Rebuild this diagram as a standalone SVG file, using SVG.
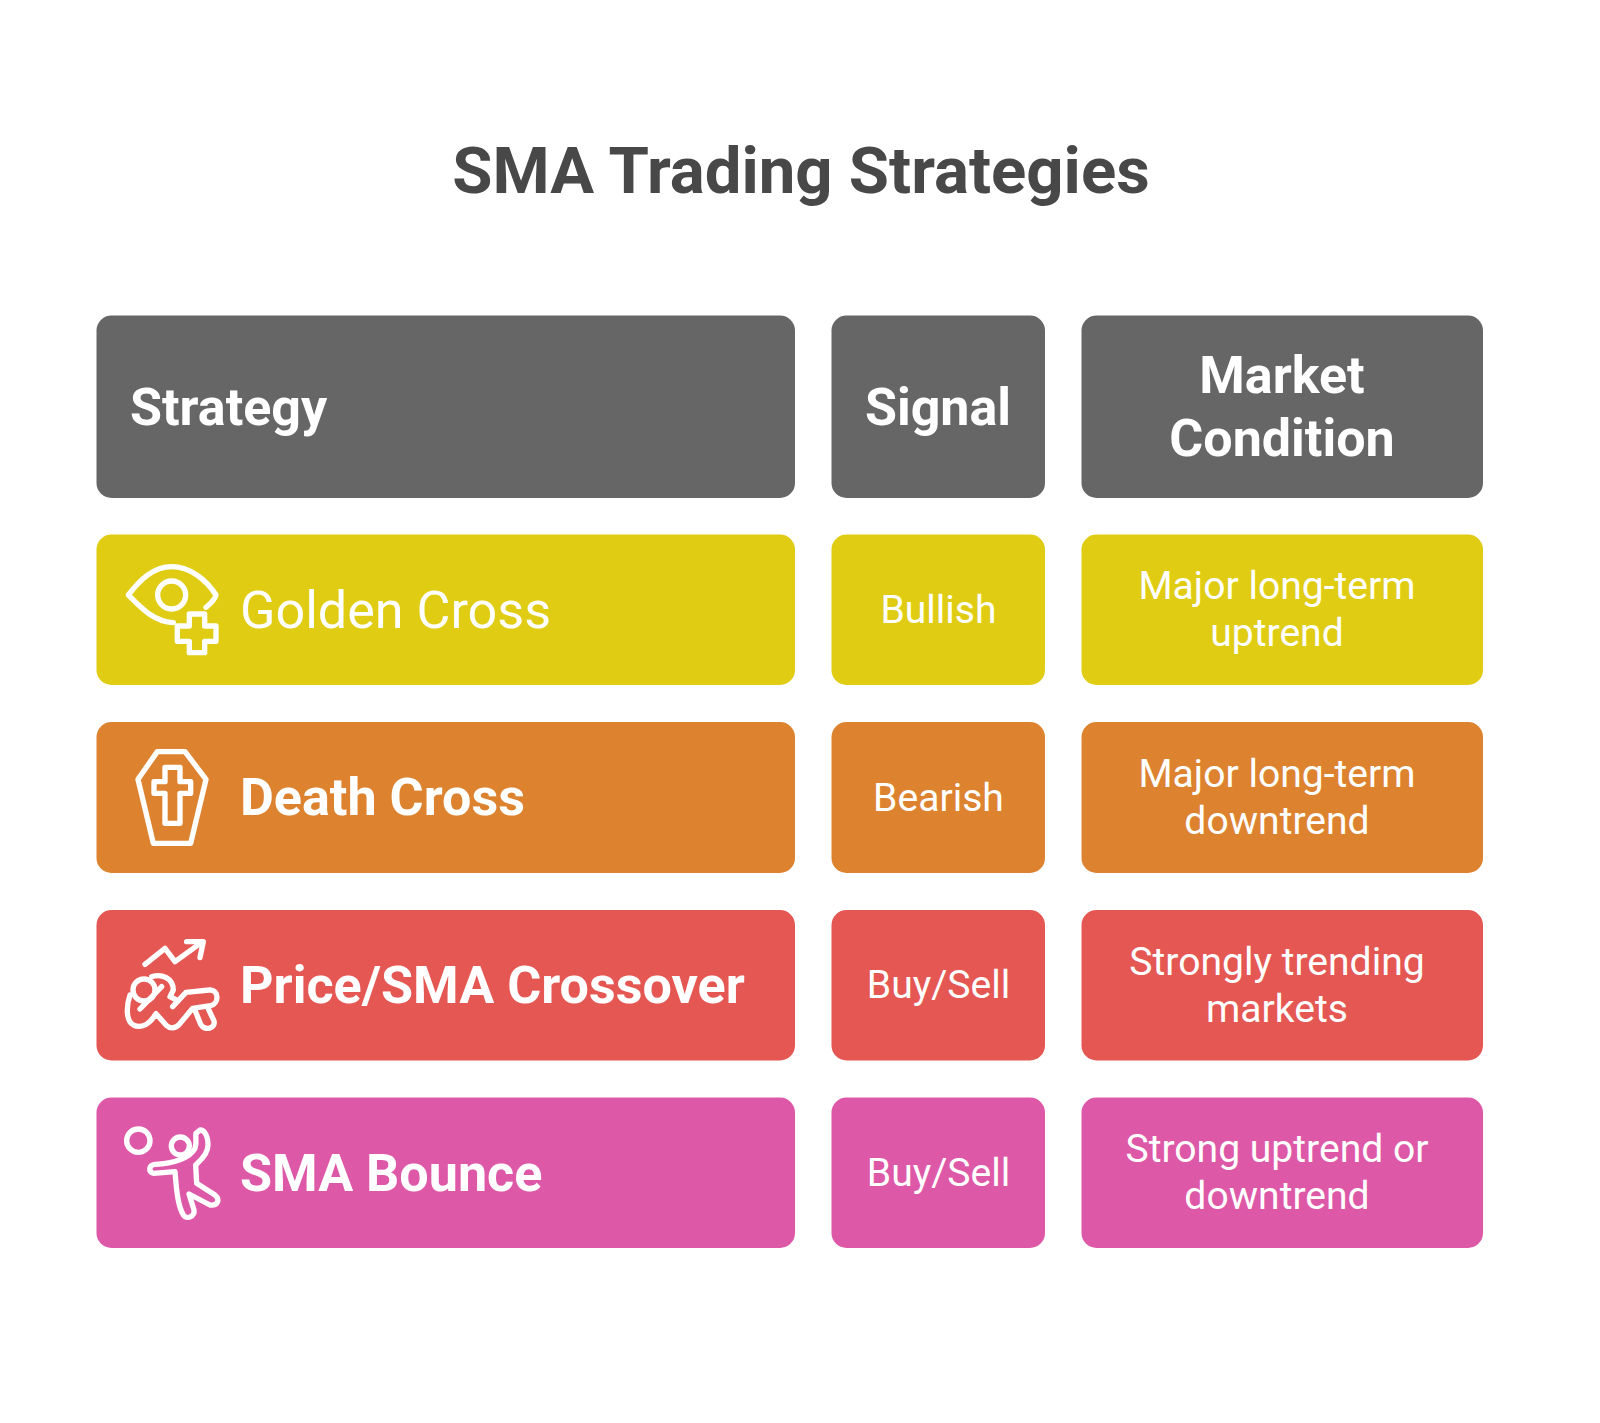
<svg xmlns="http://www.w3.org/2000/svg" width="1600" height="1423" viewBox="0 0 1600 1423">
<style>
text{font-family:Roboto,"Liberation Sans",sans-serif;fill:#fff}
.t{font-size:65.300px;font-weight:700;fill:#484848;text-anchor:middle}
.h{font-size:52px;font-weight:700}
.m{text-anchor:middle}
.s{font-size:39.100px;text-anchor:middle}
.n{font-size:52.100px;font-weight:700}
.r{font-size:52.100px}
.i{fill:none;stroke:#fff;stroke-width:16;stroke-linecap:round;stroke-linejoin:round}
.g{fill:#666666}.y{fill:#E0CC13}.o{fill:#DD832F}.e{fill:#E55753}.p{fill:#DE58A8}
</style>
<rect width="1600" height="1423" fill="#fff"/>
<text id="title" class="t" x="801" y="193">SMA Trading Strategies</text>
<g id="header-strategy"><rect class="g" x="96.500" y="315.500" width="698.500" height="182.500" rx="15"/><text class="h" x="130" y="424.500">Strategy</text></g>
<g id="header-signal"><rect class="g" x="831.500" y="315.500" width="213.500" height="182.500" rx="15"/><text class="h m" x="938" y="424.500">Signal</text></g>
<g id="header-market"><rect class="g" x="1081.500" y="315.500" width="401.500" height="182.500" rx="15"/><text class="h m" x="1282" y="393">Market</text><text class="h m" x="1282" y="456">Condition</text></g>

<g id="row-golden">
<rect class="y" x="96.500" y="534.500" width="698.500" height="150.500" rx="15"/>
<text class="r" x="240" y="628">Golden Cross</text>
<g class="i" transform="translate(100,530) scale(.3333)"><path d="M220 278C160 275 120 230 85 195C120 150 160 110 215 110C270 110 320 150 348 195C345 210 330 222 318 232"/><circle cx="215" cy="195" r="42"/><path d="M268 252H314V288H348V334H314V368H268V334H232V288H268Z"/></g>
</g>
<g id="signal-golden"><rect class="y" x="831.500" y="534.500" width="213.500" height="150.500" rx="15"/><text class="s" x="938.500" y="623">Bullish</text></g>
<g id="market-golden"><rect class="y" x="1081.500" y="534.500" width="401.500" height="150.500" rx="15"/><text class="s" x="1277" y="599">Major long-term</text><text class="s" x="1277" y="646">uptrend</text></g>

<g id="row-death">
<rect class="o" x="96.500" y="722" width="698.500" height="151" rx="15"/>
<text class="n" x="240" y="815">Death Cross</text>
<g class="i" transform="translate(100,530) scale(.3333)"><path d="M172 665H255L318 748L272 940H160L114 748Z"/><path d="M195 712H240V755H272V790H240V880H195V790H162V755H195Z"/></g>
</g>
<g id="signal-death"><rect class="o" x="831.500" y="722" width="213.500" height="151" rx="15"/><text class="s" x="938.500" y="810.500">Bearish</text></g>
<g id="market-death"><rect class="o" x="1081.500" y="722" width="401.500" height="151" rx="15"/><text class="s" x="1277" y="786.500">Major long-term</text><text class="s" x="1277" y="833.500">downtrend</text></g>

<g id="row-price">
<rect class="e" x="96.500" y="910" width="698.500" height="150.500" rx="15"/>
<text class="n" x="240" y="1003">Price/SMA Crossover</text>
<g class="i" transform="translate(120,935) scale(.3333)"><path d="M75 88L135 40L165 80L245 22M200 20H250L240 68"/><circle cx="72" cy="165" r="33"/><path d="M60 222L125 155"/><path d="M95 125C125 115 160 130 160 165L150 185L170 195"/><path d="M158 215L198 172L268 165C298 163 298 207 271 212L218 220L178 268C168 280 150 282 140 272L108 236C90 266 65 282 40 270C18 258 18 215 30 180"/><path d="M225 226L242 268C255 290 288 280 282 258L262 215"/></g>
</g>
<g id="signal-price"><rect class="e" x="831.500" y="910" width="213.500" height="150.500" rx="15"/><text class="s" x="938.500" y="998">Buy/Sell</text></g>
<g id="market-price"><rect class="e" x="1081.500" y="910" width="401.500" height="150.500" rx="15"/><text class="s" x="1277" y="974.500">Strongly trending</text><text class="s" x="1277" y="1021.500">markets</text></g>

<g id="row-bounce">
<rect class="p" x="96.500" y="1097.500" width="698.500" height="150.500" rx="15"/>
<text class="n" x="240" y="1191">SMA Bounce</text>
<g class="i" transform="translate(120,1120) scale(.3333)"><circle cx="55" cy="62" r="35"/><circle cx="181" cy="78" r="27"/><path d="M240 30C252 30 264 45 264 75C264 105 237 125 227 135L230 190L285 225C302 240 292 258 270 255L207 222L222 270C225 290 200 300 190 285C175 260 170 220 165 155L100 160C85 155 85 135 105 133C160 130 210 115 225 85C232 65 225 50 228 40Z"/></g>
</g>
<g id="signal-bounce"><rect class="p" x="831.500" y="1097.500" width="213.500" height="150.500" rx="15"/><text class="s" x="938.500" y="1185.500">Buy/Sell</text></g>
<g id="market-bounce"><rect class="p" x="1081.500" y="1097.500" width="401.500" height="150.500" rx="15"/><text class="s" x="1277" y="1162">Strong uptrend or</text><text class="s" x="1277" y="1209">downtrend</text></g>
<g id="connectors"/>
</svg>
